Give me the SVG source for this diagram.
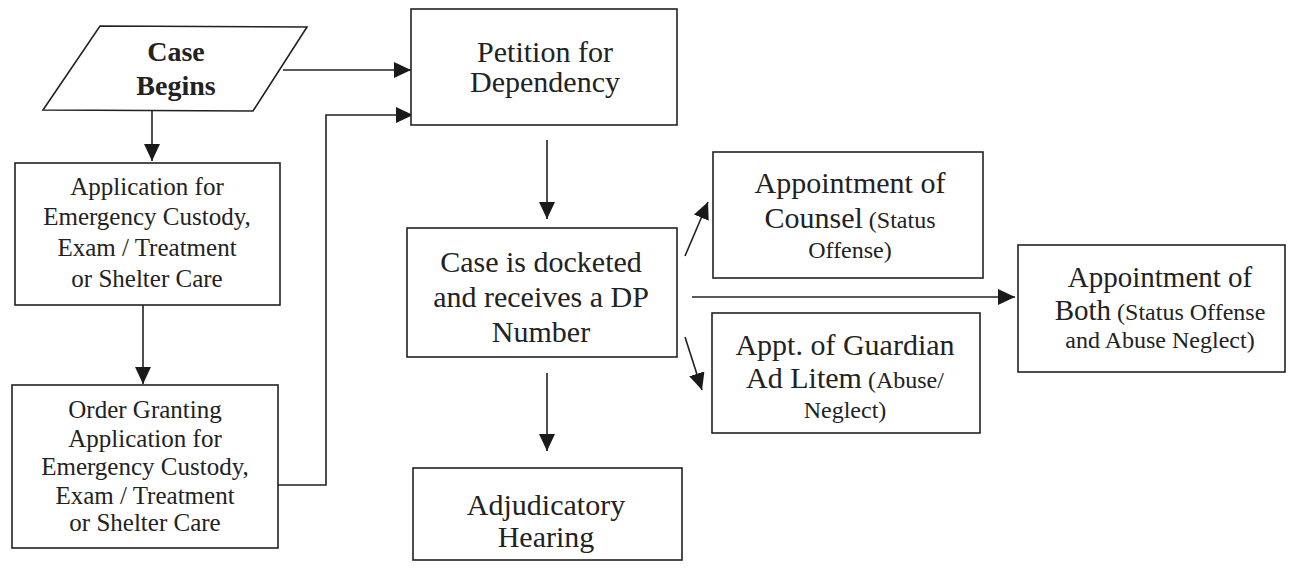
<svg xmlns="http://www.w3.org/2000/svg" width="1289" height="573" viewBox="0 0 1289 573">
<defs>
<marker id="ah" markerUnits="userSpaceOnUse" markerWidth="18" markerHeight="16" refX="17" refY="8" orient="auto">
<path d="M0,0 L17,8 L0,16 Z" fill="#1a1a1a"/>
</marker>
<style>
.box{fill:#fff;stroke:#222;stroke-width:1.6}
.t{font-family:"Liberation Serif","Times New Roman",serif;fill:#222;text-anchor:middle}
.b{font-weight:bold;font-size:28px}
.m{font-size:25px}
.l{font-size:30px}
.s{font-size:24px}
.c{fill:none;stroke:#222;stroke-width:1.6}
</style>
</defs>
<rect width="1289" height="573" fill="#fff"/>
<g id="connectors">
<line class="c" x1="283" y1="70" x2="411" y2="70" marker-end="url(#ah)"/>
<line class="c" x1="152" y1="110" x2="152" y2="161" marker-end="url(#ah)"/>
<line class="c" x1="143" y1="305" x2="143" y2="384" marker-end="url(#ah)"/>
<polyline class="c" points="278,485 326,485 326,115 413,115" marker-end="url(#ah)"/>
<line class="c" x1="547" y1="140" x2="547" y2="219" marker-end="url(#ah)"/>
<line class="c" x1="547" y1="373" x2="547" y2="451" marker-end="url(#ah)"/>
<line class="c" x1="685" y1="256" x2="708" y2="202" marker-end="url(#ah)"/>
<line class="c" x1="685" y1="337" x2="702" y2="390" marker-end="url(#ah)"/>
<line class="c" x1="692" y1="297" x2="1015" y2="297" marker-end="url(#ah)"/>
</g>
<g id="case-begins">
<polygon class="box" points="100,26 307,27 253,111 43,110"/>
<text class="t b" x="176" y="61">Case</text>
<text class="t b" x="176" y="95">Begins</text>
</g>
<g id="application">
<rect class="box" x="15" y="163" width="265" height="142"/>
<text class="t m" x="147" y="195">Application for</text>
<text class="t m" x="147" y="225">Emergency Custody,</text>
<text class="t m" x="147" y="256">Exam / Treatment</text>
<text class="t m" x="147" y="287">or Shelter Care</text>
</g>
<g id="order">
<rect class="box" x="12" y="385" width="266" height="163"/>
<text class="t m" x="145" y="418">Order Granting</text>
<text class="t m" x="145" y="447">Application for</text>
<text class="t m" x="145" y="475">Emergency Custody,</text>
<text class="t m" x="145" y="504">Exam / Treatment</text>
<text class="t m" x="145" y="531">or Shelter Care</text>
</g>
<g id="petition">
<rect class="box" x="411" y="9" width="266" height="116"/>
<text class="t l" x="545" y="62">Petition for</text>
<text class="t l" x="545" y="92">Dependency</text>
</g>
<g id="docketed">
<rect class="box" x="407" y="228" width="270" height="129"/>
<text class="t l" x="541" y="272">Case is docketed</text>
<text class="t l" x="541" y="307">and receives a DP</text>
<text class="t l" x="541" y="342">Number</text>
</g>
<g id="adjudicatory">
<rect class="box" x="413" y="468" width="269" height="92"/>
<text class="t l" x="546" y="515">Adjudicatory</text>
<text class="t l" x="546" y="547">Hearing</text>
</g>
<g id="counsel">
<rect class="box" x="713" y="152" width="270" height="126"/>
<text class="t l" x="850" y="193">Appointment of</text>
<text class="t" x="850" y="228"><tspan class="l">Counsel</tspan><tspan class="s"> (Status</tspan></text>
<text class="t s" x="850" y="258">Offense)</text>
</g>
<g id="guardian">
<rect class="box" x="712" y="313" width="268" height="120"/>
<text class="t l" x="845" y="355">Appt. of Guardian</text>
<text class="t" x="845" y="388"><tspan class="l">Ad Litem</tspan><tspan class="s"> (Abuse/</tspan></text>
<text class="t s" x="845" y="418">Neglect)</text>
</g>
<g id="both">
<rect class="box" x="1018" y="245" width="267" height="127"/>
<text class="t" x="1160" y="287" style="font-size:29px">Appointment of</text>
<text class="t" x="1160" y="320"><tspan style="font-size:29px">Both</tspan><tspan class="s"> (Status Offense</tspan></text>
<text class="t s" x="1160" y="348">and Abuse Neglect)</text>
</g>
</svg>
